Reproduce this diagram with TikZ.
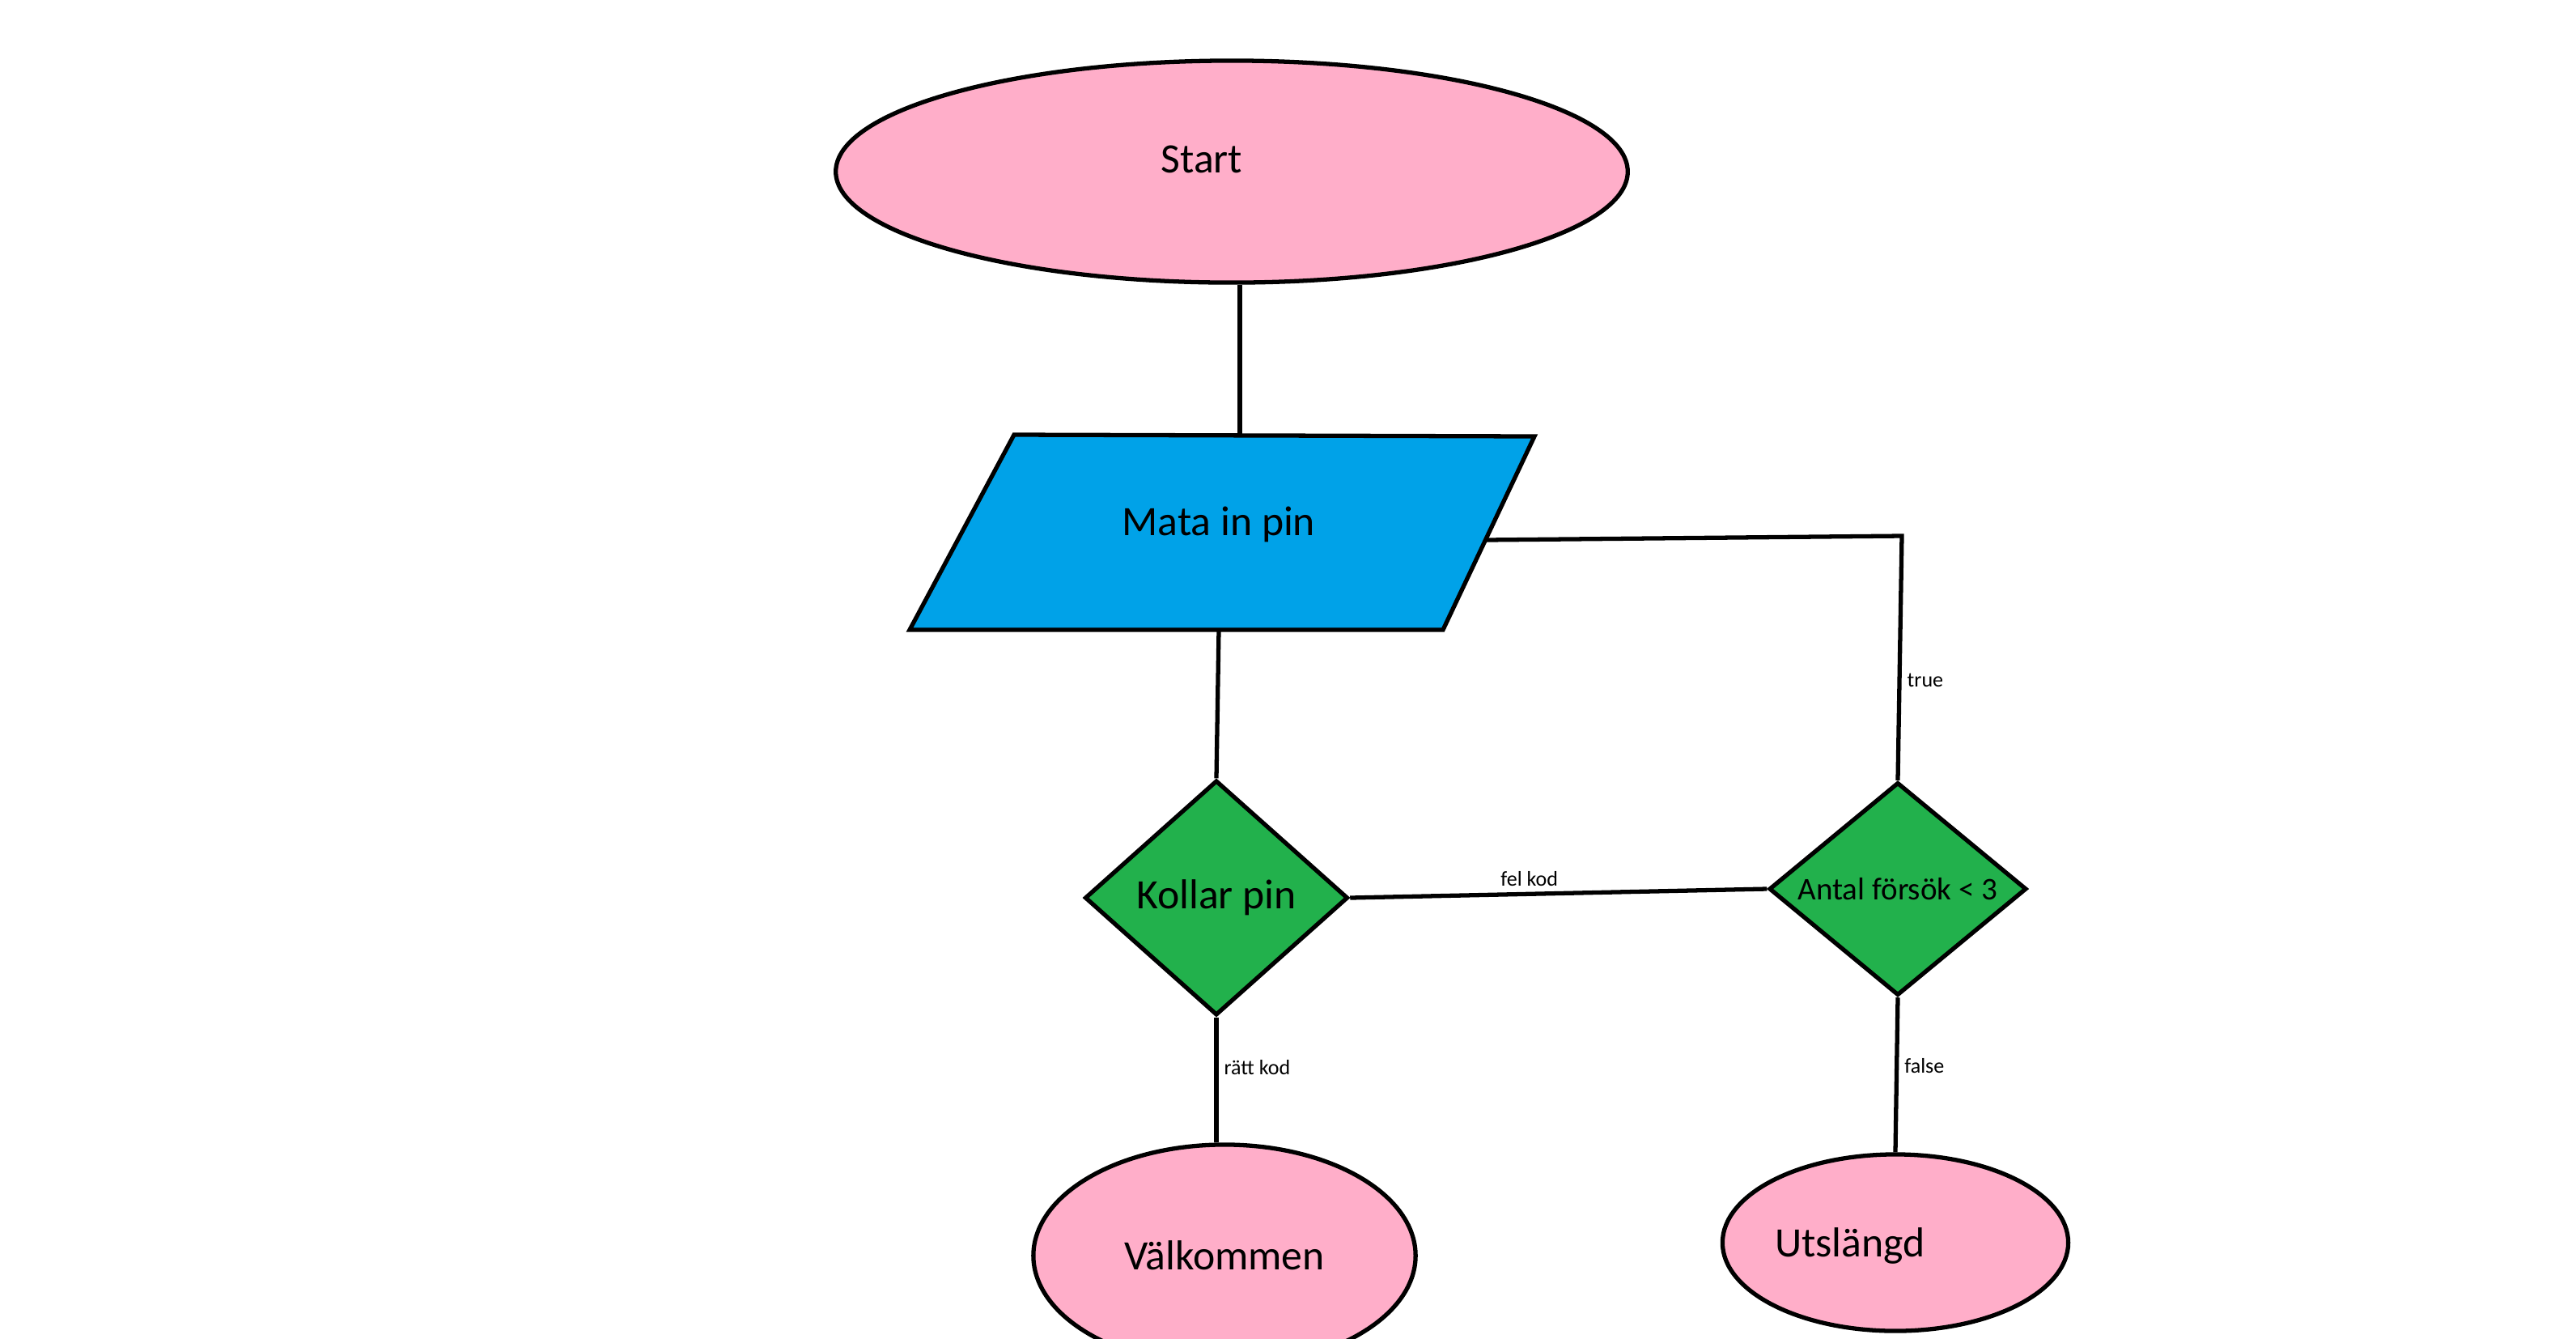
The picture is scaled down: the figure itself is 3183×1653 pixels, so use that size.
\documentclass[tikz,border=0pt]{standalone}
\usepackage{fontspec}
\setmainfont{Carlito}
\usetikzlibrary{shapes.geometric}
\definecolor{pinkfill}{HTML}{FFAEC9}
\definecolor{bluefill}{HTML}{00A2E8}
\definecolor{greenfill}{HTML}{22B14C}

\begin{document}
\begin{tikzpicture}[x=0.01cm, y=-0.01cm, line width=1.5pt,
  term/.style={ellipse, draw, fill=pinkfill, inner sep=0pt},
  check/.style={diamond, draw, fill=greenfill, inner sep=0pt},
  big/.style={font=\fontsize{14.7}{17}\selectfont},
  lbl/.style={font=\fontsize{7.4}{9}\selectfont, inner sep=2pt}]
\useasboundingbox (0,0) rectangle (3183,1653);
% start
\node[term, minimum width=9.78cm, minimum height=2.74cm] (start) at (1522,212) {};
\node[big] (starttext) at (1485,197) {Start};
% input
\draw[fill=bluefill] (1253,537) -- (1896,539) -- (1783,778) -- (1124,778) -- cycle;
\node[big] (mata) at (1506,648) {Mata in pin};
\coordinate (ptop) at (1532,538);
\coordinate (pbot) at (1506,778);
\coordinate (pright) at (1835,667);
% checks
\node[check, aspect=1.12, minimum width=3.25cm, minimum height=2.90cm, big] (kollar) at (1503,1109) {Kollar pin};
\node[check, aspect=1.2, minimum width=3.18cm, minimum height=2.63cm,
  font=\fontsize{11.1}{13}\selectfont] (antal) at (2345,1098) {Antal försök < 3};
% ends
\node[term, minimum width=4.72cm, minimum height=2.74cm, big] (valk) at (1513,1551) {Välkommen};
\node[term, minimum width=4.27cm, minimum height=2.18cm] (ute) at (2342,1535) {};
\node[big] (utetext) at (2286,1539) {Utslängd};
% lines
\coordinate (tcorner) at (2350,662);
\draw (ptop |- start.south) -- (ptop);
\draw (pbot) -- (kollar.north);
\draw (kollar.south) -- node[pos=0.4, right, lbl] {rätt kod} (kollar.south |- valk.north);
\draw (kollar.east) -- node[pos=0.43, above, lbl] {fel kod} (antal.west);
\draw (antal.north) -- node[pos=0.41, right, lbl] {true} (tcorner) -- (pright);
\draw (antal.south) -- node[pos=0.44, right, lbl] {false} (ute.north);
\end{tikzpicture}
\end{document}
